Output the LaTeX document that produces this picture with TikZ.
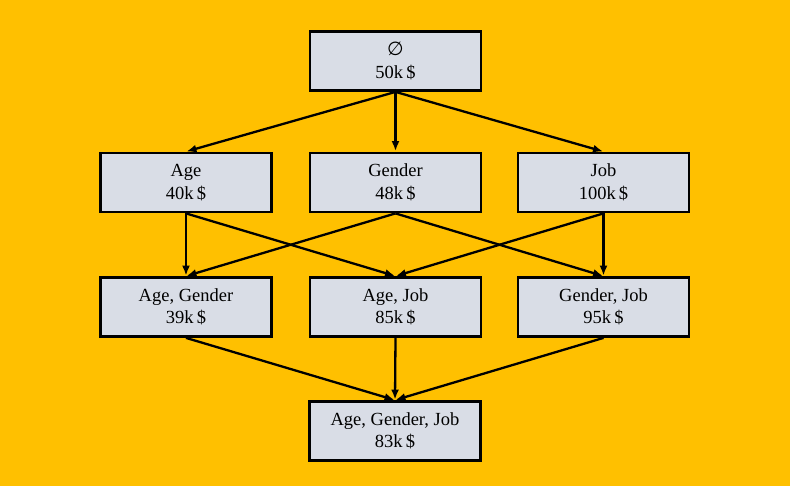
\documentclass[tikz,border=0pt]{standalone}
\usepackage{fontspec}
\setmainfont{Liberation Serif}
\newfontfamily\symfnt{DejaVu Sans}
\usetikzlibrary{arrows.meta}
\definecolor{bg}{HTML}{FFC000}
\definecolor{boxfill}{HTML}{D9DDE6}
\begin{document}
\begin{tikzpicture}[x=1pt,y=-1pt,
  lat/.style={draw=black, line width=2.8pt, fill=boxfill, minimum width=171pt, minimum height=59pt, inner sep=0pt, align=center, font=\fontsize{18.5}{22.5}\selectfont},
  conn/.style={-{Latex[length=10pt,width=8pt]}, line width=2.3pt, shorten >=0.5pt}]
\fill[bg] (0,0) rectangle (790,486);
\useasboundingbox (0,0) rectangle (790,486);
\node[lat] (top) at (395.5,61) {{\symfnt\fontsize{19}{22.5}\selectfont ∅}\\50k\,\$};
\node[lat] (age) at (186,182.5) {Age\\40k\,\$};
\node[lat] (gen) at (395.5,182.5) {Gender\\48k\,\$};
\node[lat] (job) at (603.5,182.5) {Job\\100k\,\$};
\node[lat] (ag) at (186,307) {Age, Gender\\39k\,\$};
\node[lat] (aj) at (395.5,307) {Age, Job\\85k\,\$};
\node[lat] (gj) at (603.5,307) {Gender, Job\\95k\,\$};
\node[lat] (all) at (395,431) {Age, Gender, Job\\83k\,\$};
\draw[conn] (top.south) -- (age.north);
\draw[conn] (top.south) -- (gen.north);
\draw[conn] (top.south) -- (job.north);
\draw[conn] (age.south) -- (ag.north);
\draw[conn] (age.south) -- (aj.north);
\draw[conn] (gen.south) -- (ag.north);
\draw[conn] (gen.south) -- (gj.north);
\draw[conn] (job.south) -- (aj.north);
\draw[conn] (job.south) -- (gj.north);
\draw[conn] (ag.south) -- (all.north);
\draw[conn] (aj.south) -- (all.north);
\draw[conn] (gj.south) -- (all.north);
\end{tikzpicture}
\end{document}
